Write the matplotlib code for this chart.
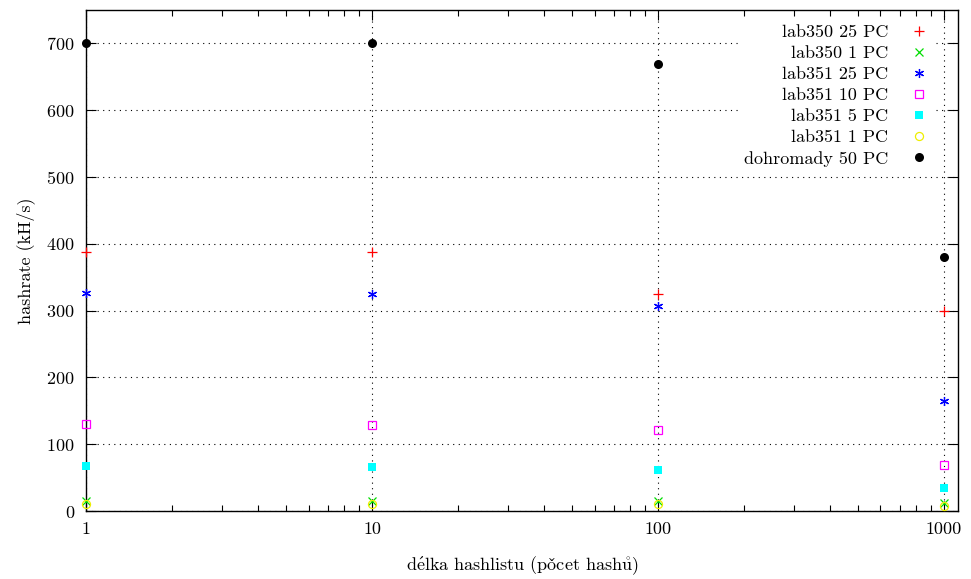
import matplotlib
matplotlib.use("Agg")
import matplotlib.pyplot as plt
from matplotlib.ticker import FixedLocator, LogLocator, NullFormatter

plt.rcParams["font.family"] = ["cmr10", "DejaVu Serif"]
plt.rcParams["axes.formatter.use_mathtext"] = True
plt.rcParams["mathtext.fontset"] = "cm"

delka = [1, 10, 100, 1000]
lab350_25 = [388, 388, 325, 300]
lab350_1 = [15, 15, 15, 12]
lab351_25 = [326, 325, 307, 165]
lab351_10 = [130, 129, 121, 69]
lab351_5 = [67, 66, 61, 34]
lab351_1 = [11, 11, 11, 7]
dohromady_50 = [700, 700, 669, 381]

series = [
    ("lab350 25 PC", lab350_25, dict(marker="+", color="red", ms=6.5, mew=0.9, ls="none")),
    ("lab350 1 PC", lab350_1, dict(marker="x", color="#00dd00", ms=5.5, mew=0.9, ls="none")),
    ("lab351 25 PC", lab351_25, dict(marker=(6, 2, 0), color="blue", ms=6.5, mew=0.9, ls="none")),
    ("lab351 10 PC", lab351_10, dict(marker="s", mfc="none", mec="magenta", color="magenta", ms=5.5, mew=0.9, ls="none")),
    ("lab351 5 PC", lab351_5, dict(marker="s", color="cyan", ms=5.8, mew=0, ls="none")),
    ("lab351 1 PC", lab351_1, dict(marker="o", mfc="none", mec="#eeee00", color="#eeee00", ms=5.8, mew=0.9, ls="none")),
    ("dohromady 50 PC", dohromady_50, dict(marker="o", color="black", ms=6.5, mew=0, ls="none")),
]

fig = plt.figure(figsize=(9.71, 5.79), dpi=100)
ax = fig.add_axes([0.0886, 0.1174, 0.898, 0.8653])

for label, ys, style in series:
    ax.plot(delka, ys, label=label, clip_on=False, zorder=3, **style)

ax.set_xscale("log")
ax.set_xlim(1, 1120)
ax.set_ylim(0, 750)
ax.xaxis.set_major_locator(FixedLocator([1, 10, 100, 1000]))
ax.set_xticklabels(["1", "10", "100", "1000"])
ax.xaxis.set_minor_locator(LogLocator(base=10, subs=range(2, 10)))
ax.xaxis.set_minor_formatter(NullFormatter())
ax.set_yticks(range(0, 701, 100))

ax.tick_params(which="both", direction="in", top=True, right=True, labelsize=13, pad=8)
ax.tick_params(which="major", length=7, width=0.8)
ax.tick_params(which="minor", length=4, width=0.8)
for s in ax.spines.values():
    s.set_linewidth(1.0)

ax.grid(True, which="major", color="black", linestyle=(0, (1, 4)), linewidth=0.8)

ax.set_xlabel(r"d$\mathrm{\acute{e}}$lka hashlistu (po$\mathrm{\check{c}}$et hash$\mathrm{\mathring{u}}$)",
              fontsize=13, labelpad=12)
ax.set_ylabel("hashrate (kH/s)", fontsize=13, labelpad=8)

leg = ax.legend(loc="upper right", bbox_to_anchor=(0.983, 0.993), markerfirst=False, fontsize=13,
                frameon=True, facecolor="white", edgecolor="none", framealpha=1.0, fancybox=False,
                borderaxespad=0.5, labelspacing=0.3, handletextpad=1.0, handlelength=1.45,
                borderpad=0.1)
for t in leg.get_texts():
    t.set_ha("right")
leg._legend_box.align = "right"

fig.savefig("out.png", dpi=100)
